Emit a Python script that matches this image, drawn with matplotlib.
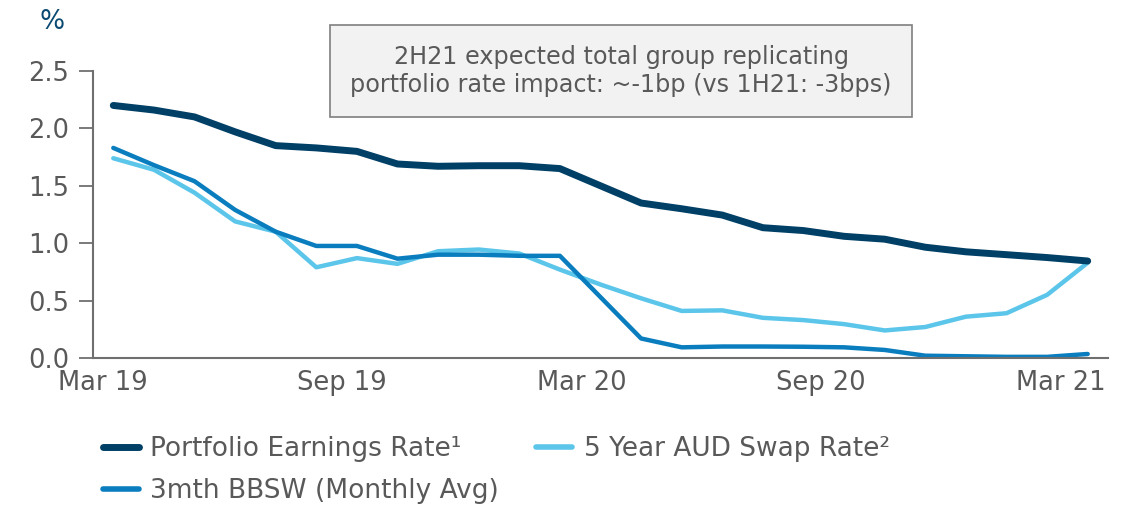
import matplotlib
matplotlib.use("Agg")
import matplotlib.pyplot as plt

months = ["Mar 19", "Apr 19", "May 19", "Jun 19", "Jul 19", "Aug 19", "Sep 19",
          "Oct 19", "Nov 19", "Dec 19", "Jan 20", "Feb 20", "Mar 20", "Apr 20",
          "May 20", "Jun 20", "Jul 20", "Aug 20", "Sep 20", "Oct 20", "Nov 20",
          "Dec 20", "Jan 21", "Feb 21", "Mar 21"]
portfolio_rate = [2.20, 2.16, 2.10, 1.97, 1.85, 1.83, 1.80, 1.69, 1.67, 1.675, 1.675,
                  1.65, 1.50, 1.35, 1.30, 1.245, 1.135, 1.11, 1.06, 1.035, 0.965,
                  0.925, 0.90, 0.875, 0.845]
swap_rate = [1.74, 1.64, 1.44, 1.19, 1.10, 0.79, 0.87, 0.82, 0.93, 0.945, 0.91,
             0.77, 0.64, 0.52, 0.41, 0.415, 0.35, 0.33, 0.295, 0.24, 0.27,
             0.36, 0.39, 0.55, 0.83]
bbsw = [1.83, 1.68, 1.54, 1.29, 1.10, 0.976, 0.976, 0.865, 0.90, 0.90, 0.89,
        0.89, 0.53, 0.17, 0.093, 0.10, 0.10, 0.098, 0.093, 0.07, 0.02,
        0.015, 0.01, 0.01, 0.035]
tick_labels = ["Mar 19", "Sep 19", "Mar 20", "Sep 20", "Mar 21"]
series_names = ["Portfolio Earnings Rate\u00b9", "5 Year AUD Swap Rate\u00b2",
                "3mth BBSW (Monthly Avg)"]
note = "2H21 expected total group replicating\nportfolio rate impact: ~-1bp (vs 1H21: -3bps)"

NAVY = "#003F66"
LIGHT = "#5BC5EA"
MID = "#0A7DBE"
GREY = "#595959"

plt.rcParams["font.family"] = ["DejaVu Sans"]

fig = plt.figure(figsize=(11.35, 5.05), dpi=100)
ax = fig.add_axes([93/1135, 1-358/505, (1108-93)/1135, (358-71)/505])

x = list(range(len(months)))
l1, = ax.plot(x, portfolio_rate, color=NAVY, lw=5, solid_capstyle="round",
              solid_joinstyle="round", zorder=3)
l2, = ax.plot(x, swap_rate, color=LIGHT, lw=3.2, solid_capstyle="round",
              solid_joinstyle="round", zorder=2)
l3, = ax.plot(x, bbsw, color=MID, lw=3.2, solid_capstyle="round",
              solid_joinstyle="round", zorder=2)

ax.set_xlim(-0.5, 24.5)
ax.set_ylim(0, 2.5)
ax.set_yticks([0, 0.5, 1.0, 1.5, 2.0, 2.5])
ax.set_yticklabels(["0.0", "0.5", "1.0", "1.5", "2.0", "2.5"])
step = (1062 - 102) / 4 / ((1089 - 113) / 24)
start = (102 - 113) / ((1089 - 113) / 24)
ax.set_xticks([start + i * step for i in range(5)])
ax.set_xticklabels(tick_labels)
ax.tick_params(axis="x", length=0, pad=9, labelsize=18.5, colors=GREY)
ax.tick_params(axis="y", length=10, width=1.3, pad=7, labelsize=18.5,
               colors="#6f6f6f", labelcolor=GREY, direction="out")

for s in ["top", "right"]:
    ax.spines[s].set_visible(False)
for s in ["left", "bottom"]:
    ax.spines[s].set_color("#6f6f6f")
    ax.spines[s].set_linewidth(1.5)

fig.text(52/1135, 1-22/505, "%", color="#0B4A73", fontsize=19,
         ha="center", va="center")

fig.text(621/1135, 1-71/505, note, ha="center", va="center", fontsize=17.2,
         color=GREY, linespacing=1.2,
         bbox=dict(boxstyle="square,pad=0.85", facecolor="#F2F2F2",
                   edgecolor="#7F7F7F", linewidth=1.2))

leg = fig.legend([l1, l3, l2], [series_names[0], series_names[2], series_names[1]],
                 loc="upper left",
                 bbox_to_anchor=(103/1135, 1-436/505), ncol=2, frameon=False,
                 fontsize=19, handlelength=1.35, handletextpad=0.45,
                 columnspacing=1.4, labelspacing=0.62, borderaxespad=0,
                 borderpad=0)
for t in leg.get_texts():
    t.set_color(GREY)
for h, w in zip(leg.get_lines(), [5, 4, 4]):
    h.set_linewidth(w)
    h.set_solid_capstyle("round")

fig.savefig("out.png", dpi=100)
